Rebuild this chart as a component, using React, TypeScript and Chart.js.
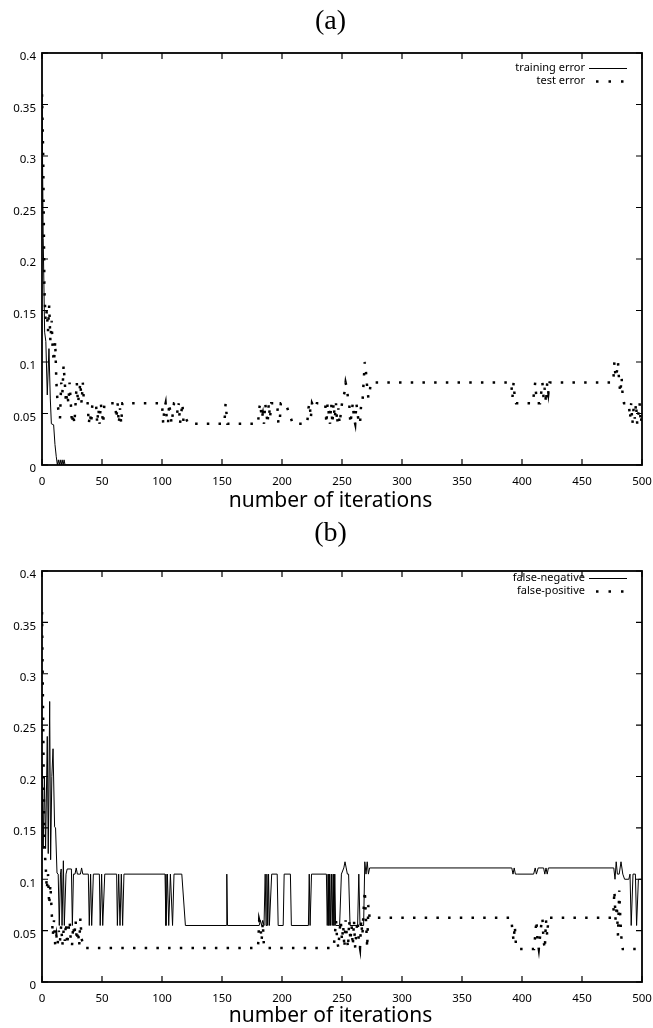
import React, { useEffect, useRef } from 'react';
import { Chart, registerables } from 'chart.js';

Chart.register(...registerables);
Chart.defaults.font.family = "'Noto Sans', sans-serif";
Chart.defaults.color = '#000';

// ---------- axes ----------
const xTicks = [0, 50, 100, 150, 200, 250, 300, 350, 400, 450, 500];
const yTicks = [0, 0.05, 0.1, 0.15, 0.2, 0.25, 0.3, 0.35, 0.4];
const xTitle = 'number of iterations';

// ---------- panel (a) ----------
const trainIter = [0, 1, 2.2, 3.2, 4.4, 5.8, 6.9, 7.8, 9.7, 10.8,
  11.9, 12.8, 13.6, 14.4, 15.2, 16, 16.8, 17.6, 18.4, 19.2,
  500];
const trainErr = [0.36, 0.22, 0.129, 0.12, 0.068, 0.113, 0.065, 0.04, 0.039, 0.02,
  0.008, 0, 0.005, 0, 0.005, 0, 0.005, 0, 0.005, 0,
  0];

const testIter = [0, 1, 2, 3, 4, 5, 6, 7, 8, 9,
  10, 11, 12, 13, 14, 15, 16, 17, 18, 19,
  20, 21, 22, 23, 24, 25, 26, 27, 28, 29,
  30, 31, 32, 33, 34, 35, 36, 38, 39, 40,
  41, 42, 45, 46, 47, 48, 49, 50, 51, 52,
  61, 62, 63, 64, 65, 66, 67, 100, 101, 102,
  103, 104, 105, 106, 107, 108, 110, 112, 113, 114,
  115, 116, 117, 118, 120, 122, 152, 153, 154.5, 180,
  181, 182, 183, 184, 185, 186, 187, 188, 189, 190,
  191, 196, 197, 198, 199, 203, 206, 209, 221, 222,
  223, 224, 225, 227, 229, 233, 236, 237, 238, 239,
  240, 241, 242, 243, 244, 245, 246, 247, 248, 249,
  250, 252, 253, 254, 255, 256, 257, 258, 259, 260,
  261, 262, 263, 264, 265, 266, 267, 268, 269, 270,
  271, 272, 273, 274, 391, 392, 393, 394, 395, 409,
  410, 411, 412, 413, 415, 416, 417, 418, 419, 420,
  421, 422, 423, 476, 477, 478, 479, 480, 481, 482,
  483, 484, 485, 489, 490, 491, 492, 493, 494, 495,
  496, 497, 498, 499, 500];
const testErr = [0.36, 0.30, 0.17, 0.14, 0.15, 0.13, 0.155, 0.12, 0.14, 0.11,
  0.10, 0.12, 0.08, 0.06, 0.05, 0.045, 0.08, 0.07, 0.097, 0.08,
  0.06, 0.07, 0.06, 0.08, 0.06, 0.04, 0.05, 0.04, 0.06, 0.08,
  0.06, 0.07, 0.08, 0.06, 0.08, 0.06, 0.06, 0.06, 0.04, 0.05,
  0.04, 0.06, 0.06, 0.04, 0.055, 0.04, 0.06, 0.05, 0.04, 0.06,
  0.06, 0.045, 0.06, 0.04, 0.055, 0.04, 0.06, 0.06, 0.04, 0.055,
  0.06, 0.045, 0.04, 0.06, 0.05, 0.04, 0.06, 0.06, 0.05, 0.06,
  0.04, 0.05, 0.06, 0.04, 0.045, 0.04, 0.04, 0.06, 0.04, 0.04,
  0.055, 0.06, 0.045, 0.05, 0.04, 0.06, 0.05, 0.04, 0.06, 0.045,
  0.06, 0.06, 0.04, 0.04, 0.06, 0.06, 0.05, 0.04, 0.04, 0.055,
  0.06, 0.045, 0.06, 0.055, 0.06, 0.06, 0.06, 0.04, 0.06, 0.05,
  0.04, 0.06, 0.04, 0.06, 0.045, 0.06, 0.04, 0.055, 0.04, 0.05,
  0.06, 0.07, 0.08, 0.075, 0.065, 0.06, 0.04, 0.05, 0.06, 0.045,
  0.04, 0.06, 0.05, 0.04, 0.04, 0.06, 0.06, 0.08, 0.10, 0.09,
  0.075, 0.065, 0.07, 0.08, 0.08, 0.065, 0.08, 0.065, 0.06, 0.06,
  0.07, 0.08, 0.065, 0.06, 0.06, 0.07, 0.08, 0.065, 0.075, 0.06,
  0.08, 0.07, 0.08, 0.08, 0.10, 0.085, 0.09, 0.10, 0.08, 0.07,
  0.085, 0.065, 0.06, 0.06, 0.045, 0.06, 0.04, 0.055, 0.045, 0.06,
  0.04, 0.05, 0.06, 0.04, 0.05];

// ---------- panel (b) ----------
const fnIter = [0, 1, 2, 3, 4.4, 5.2, 6.4, 7.2, 8.2, 9.2,
  10.5, 11.3, 12.5, 13.5, 14.4, 15.4, 16, 16.7, 17.8, 18.6,
  20, 21, 24.5, 25.3, 26.2, 27.5, 28.5, 29.5, 32, 33,
  34, 38.6, 39.4, 40.5, 41.4, 42.8, 47.8, 48.5, 49.7, 50.6,
  52.3, 62.2, 62.8, 63.9, 65, 66.1, 67.2, 68.3, 102.5, 103.3,
  104.5, 105.6, 107, 108.8, 110, 116.5, 119.5, 153.5, 154, 154.6,
  181, 182, 183, 184, 185, 186, 186.7, 187.4, 188.1, 188.8,
  189.5, 191.4, 196, 196.8, 201, 201.8, 207, 207.8, 222, 222.7,
  223.4, 224.6, 237, 237.7, 238.4, 239.1, 239.8, 240.5, 241.2, 241.9,
  242.6, 243.3, 244, 244.7, 248, 249.5, 251.5, 252.5, 253.5, 254.5,
  255.5, 256.7, 263, 264, 265, 268, 269, 270, 271, 272,
  273, 391.5, 392.5, 393.5, 394.5, 396, 409.7, 411, 412, 413.5,
  418, 419, 420, 421, 422, 476.5, 477.5, 478.5, 479.5, 481,
  482.5, 484, 485.5, 489, 490, 491, 492.5, 494.5, 495.5, 497,
  500];
const fnErr = [0.21, 0.13, 0.2, 0.13, 0.239, 0.125, 0.273, 0.119, 0.2, 0.227,
  0.151, 0.15, 0.106, 0.105, 0.055, 0.105, 0.11, 0.055, 0.118, 0.055,
  0.105, 0.11, 0.11, 0.055, 0.105, 0.105, 0.111, 0.105, 0.105, 0.111,
  0.105, 0.105, 0.055, 0.105, 0.055, 0.105, 0.105, 0.055, 0.105, 0.055,
  0.105, 0.105, 0.055, 0.105, 0.055, 0.105, 0.055, 0.105, 0.105, 0.055,
  0.105, 0.055, 0.105, 0.055, 0.105, 0.105, 0.055, 0.055, 0.105, 0.055,
  0.055, 0.06, 0.055, 0.06, 0.055, 0.105, 0.055, 0.105, 0.055, 0.105,
  0.055, 0.105, 0.105, 0.055, 0.055, 0.105, 0.105, 0.055, 0.055, 0.105,
  0.055, 0.105, 0.105, 0.055, 0.105, 0.055, 0.105, 0.055, 0.105, 0.055,
  0.105, 0.055, 0.105, 0.055, 0.055, 0.105, 0.111, 0.117, 0.111, 0.105,
  0.105, 0.055, 0.055, 0.105, 0.055, 0.055, 0.117, 0.105, 0.117, 0.105,
  0.111, 0.111, 0.105, 0.111, 0.105, 0.105, 0.105, 0.111, 0.105, 0.111,
  0.111, 0.105, 0.111, 0.105, 0.111, 0.111, 0.1, 0.117, 0.105, 0.105,
  0.117, 0.105, 0.1, 0.1, 0.105, 0.055, 0.105, 0.105, 0.055, 0.1,
  0.1];

const fpIter = [0, 1, 2, 3, 4, 5, 6, 7, 8, 9,
  10, 11, 12, 13, 14, 15, 16, 17, 18, 19,
  20, 21, 22, 23, 24, 25, 26, 27, 28, 29,
  30, 31, 32, 33, 34, 35, 180, 181, 182, 183,
  184, 185, 243, 244, 245, 246, 247, 248, 249, 250,
  251, 252, 253, 254, 255, 256, 257, 258, 259, 260,
  261, 262, 263, 264, 265, 266, 267, 268, 269, 270,
  271, 272, 273, 391, 392, 393, 394, 395, 396, 410,
  411, 412, 413, 414, 416, 417, 418, 419, 420, 421,
  422, 476, 477, 478, 479, 480, 481, 482, 483, 484,
  500];
const fpErr = [0.36, 0.25, 0.13, 0.115, 0.09, 0.105, 0.075, 0.095, 0.07, 0.045,
  0.06, 0.036, 0.045, 0.036, 0.05, 0.04, 0.055, 0.036, 0.05, 0.04,
  0.058, 0.036, 0.05, 0.06, 0.04, 0.035, 0.055, 0.045, 0.06, 0.04,
  0.05, 0.035, 0.062, 0.042, 0.038, 0.033, 0.033, 0.06, 0.055, 0.04,
  0.058, 0.033, 0.033, 0.045, 0.06, 0.04, 0.033, 0.05, 0.06, 0.04,
  0.055, 0.033, 0.06, 0.045, 0.033, 0.06, 0.04, 0.055, 0.035, 0.06,
  0.033, 0.05, 0.06, 0.04, 0.033, 0.06, 0.045, 0.07, 0.089, 0.06,
  0.033, 0.075, 0.0626, 0.0626, 0.05, 0.04, 0.055, 0.035, 0.032, 0.032,
  0.045, 0.06, 0.04, 0.032, 0.055, 0.0626, 0.04, 0.032, 0.06, 0.045,
  0.0626, 0.0626, 0.089, 0.06, 0.075, 0.045, 0.089, 0.06, 0.04, 0.032,
  0.032];

const pts = (xs: number[], ys: number[]) => xs.map((x, i) => ({ x, y: ys[i] }));

const DOT_DASH = [2.5, 9.2];

const solid = (label: string, xs: number[], ys: number[]) => ({
  label,
  data: pts(xs, ys),
  borderColor: '#000',
  backgroundColor: '#000',
  borderWidth: 1,
  pointRadius: 0,
  tension: 0,
  fill: false,
});
const dotted = (label: string, xs: number[], ys: number[]) => ({
  label,
  data: pts(xs, ys),
  borderColor: '#000',
  backgroundColor: '#000',
  borderWidth: 2.5,
  borderDash: DOT_DASH,
  borderCapStyle: 'butt',
  pointRadius: 0,
  tension: 0,
  fill: false,
});

// frame with inward ticks + inside legend
const framePlugin = {
  id: 'frame',
  beforeDatasetsDraw(chart: any) {
    const { ctx, chartArea: a, scales } = chart;
    ctx.save();
    ctx.strokeStyle = '#000';
    ctx.lineWidth = 1.8;
    ctx.strokeRect(a.left, a.top, a.right - a.left, a.bottom - a.top);
    ctx.lineWidth = 1.2;
    ctx.beginPath();
    const L = 6;
    for (const t of scales.x.ticks) {
      const px = scales.x.getPixelForValue(t.value);
      ctx.moveTo(px, a.bottom); ctx.lineTo(px, a.bottom - L);
      ctx.moveTo(px, a.top); ctx.lineTo(px, a.top + L);
    }
    for (const t of scales.y.ticks) {
      const py = scales.y.getPixelForValue(t.value);
      ctx.moveTo(a.left, py); ctx.lineTo(a.left + L, py);
      ctx.moveTo(a.right, py); ctx.lineTo(a.right - L, py);
    }
    ctx.stroke();
    ctx.restore();
  },
  afterDatasetsDraw(chart: any, _args: any, opts: any) {
    const { ctx, chartArea: a } = chart;
    ctx.save();
    ctx.font = "11px 'Noto Sans', sans-serif";
    ctx.fillStyle = '#000';
    ctx.textAlign = 'right';
    ctx.textBaseline = 'middle';
    chart.data.datasets.forEach((ds: any, i: number) => {
      const y = a.top + opts.legendTop + i * 13;
      ctx.fillText(ds.label, a.right - 57, y);
      ctx.beginPath();
      ctx.strokeStyle = '#000';
      if (ds.borderDash) {
        ctx.lineWidth = 2.5;
        ctx.setLineDash([2.5, 10]);
        ctx.moveTo(a.right - 46, y + 0.5);
        ctx.lineTo(a.right - 17, y + 0.5);
      } else {
        ctx.lineWidth = 1;
        ctx.setLineDash([]);
        ctx.moveTo(a.right - 53, y + 0.5);
        ctx.lineTo(a.right - 15, y + 0.5);
      }
      ctx.stroke();
    });
    ctx.restore();
  },
};

type PanelCfg = {
  title: string;
  datasets: any[];
  titlePad: { top: number; bottom: number };
  subPad: { top: number; bottom: number };
  legendTop: number;
};

function buildConfig(p: PanelCfg): any {
  return {
    type: 'line',
    data: { datasets: p.datasets },
    plugins: [framePlugin],
    options: {
      responsive: false,
      animation: false,
      events: [],
      layout: { padding: { left: 8, right: 0, top: 0, bottom: 0 } },
      plugins: {
        legend: { display: false },
        tooltip: { enabled: false },
        title: {
          display: true,
          text: p.title,
          position: 'top',
          color: '#000',
          font: { family: "'Liberation Serif', serif", size: 28, weight: 'normal', lineHeight: 1.1 },
          padding: p.titlePad,
        },
        subtitle: {
          display: true,
          text: xTitle,
          position: 'bottom',
          color: '#000',
          font: { family: "'Noto Sans', sans-serif", size: 21, weight: 'normal', lineHeight: 0.8 },
          padding: p.subPad,
        },
        frame: { legendTop: p.legendTop },
      },
      scales: {
        x: {
          type: 'linear',
          min: 0,
          max: 500,
          grid: { display: false, drawTicks: false, tickLength: 0 },
          border: { display: false },
          afterBuildTicks: (s: any) => { s.ticks = xTicks.map((v) => ({ value: v })); },
          afterFit: (s: any) => { s.height = 26; s.paddingLeft = 0; s.paddingRight = 11; },
          ticks: {
            padding: 10,
            autoSkip: false,
            maxRotation: 0,
            color: '#000',
            font: { size: 11.5 },
            callback: (v: any) => String(v),
          },
        },
        y: {
          type: 'linear',
          min: 0,
          max: 0.4,
          grid: { display: false, drawTicks: false, tickLength: 0 },
          border: { display: false },
          afterBuildTicks: (s: any) => { s.ticks = yTicks.map((v) => ({ value: v })); },
          afterFit: (s: any) => { s.width = 34; },
          ticks: {
            padding: 6,
            labelOffset: 4,
            autoSkip: false,
            color: '#000',
            font: { size: 11.5 },
            callback: (v: any) => String(v),
          },
        },
      },
    },
  };
}

function Panel({ cfg }: { cfg: PanelCfg }) {
  const ref = useRef<HTMLCanvasElement>(null);
  useEffect(() => {
    const chart = new Chart(ref.current as HTMLCanvasElement, buildConfig(cfg));
    return () => chart.destroy();
  }, []);
  return (
    <canvas
      ref={ref}
      width={653}
      height={514}
      style={{ display: 'block', width: 653, height: 514 }}
    />
  );
}

// title box height = 28 * 1.1 = 30.8 + padding; plot top at 53 (a) / 57 (b)
const panelA: PanelCfg = {
  title: '(a)',
  datasets: [
    solid('training error', trainIter, trainErr),
    dotted('test error', testIter, testErr),
  ],
  titlePad: { top: 6.6, bottom: 15.6 },
  subPad: { top: 1.6, bottom: 4.6 },
  legendTop: 15,
};

const panelB: PanelCfg = {
  title: '(b)',
  datasets: [
    solid('false-negative', fnIter, fnErr),
    dotted('false-positive', fpIter, fpErr),
  ],
  titlePad: { top: 4.6, bottom: 21.6 },
  subPad: { top: 0, bottom: 3.2 },
  legendTop: 7,
};

export default function App() {
  return (
    <div style={{ position: 'absolute', left: 0, top: 0, width: 653, height: 1028, background: '#fff' }}>
      <Panel cfg={panelA} />
      <Panel cfg={panelB} />
    </div>
  );
}
